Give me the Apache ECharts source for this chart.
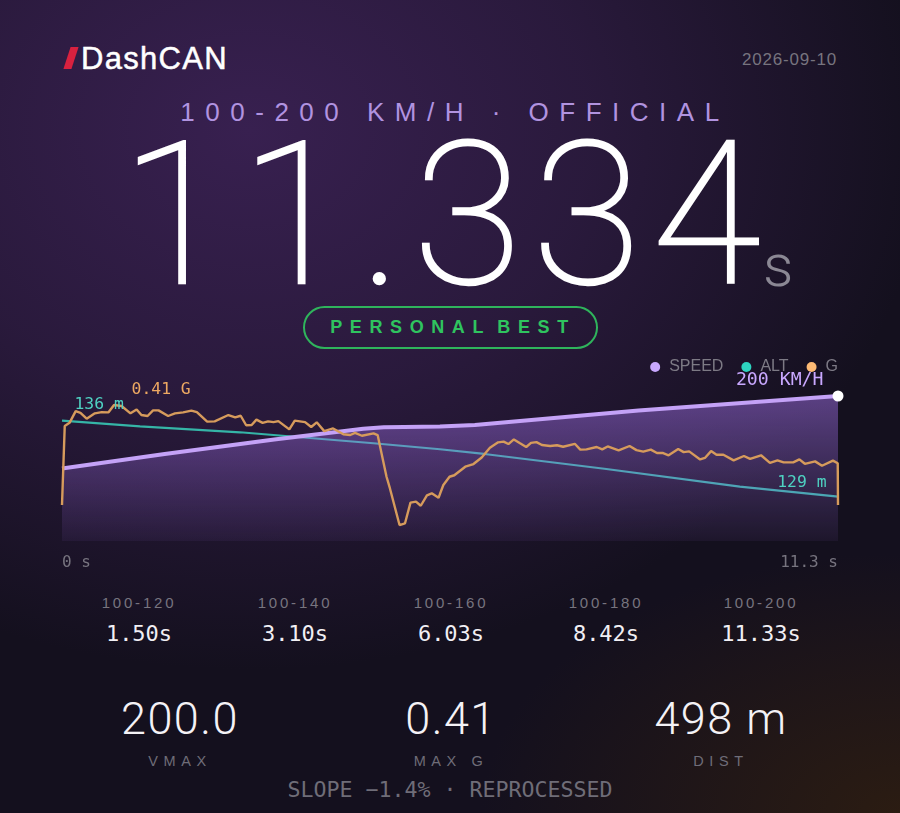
<!DOCTYPE html>
<html>
<head>
<meta charset="utf-8">
<title>DashCAN</title>
<script src="https://cdn.jsdelivr.net/npm/echarts@6/dist/echarts.min.js"></script>
<style>
  html, body { margin: 0; padding: 0; }
  body {
    width: 900px; height: 813px; overflow: hidden; position: relative; color: #fff;
    font-family: "Liberation Sans", sans-serif;
    background:
      radial-gradient(ellipse 680px 540px at 250px 130px, #382050 0%, rgba(56,32,80,0.6) 50%, rgba(56,32,80,0) 100%),
      radial-gradient(ellipse 420px 260px at 900px 813px, #2b1c12 0%, rgba(43,28,18,0) 100%),
      #14101e;
  }
  .t { position: absolute; white-space: nowrap; line-height: 1; }
  .c { transform: translateX(-50%); }
  .mono { font-family: "DejaVu Sans Mono", monospace; }
  .light { font-family: Roboto, sans-serif; }
  #chart { position: absolute; left: 0; top: 350px; width: 900px; height: 230px; }
  #slash { position: absolute; left: 67px; top: 47px; width: 8px; height: 22px; background: #d8213f; transform: skewX(-18deg); }
  #pill { position: absolute; left: 303px; top: 306px; width: 291px; height: 39px; border: 2px solid #2fb45c; border-radius: 22px; }
</style>
</head>
<body>
<div id="slash"></div>
<div class="t" style="left:81px;top:43px;font-size:31px;letter-spacing:1.3px;-webkit-text-stroke:0.5px #fff;">DashCAN</div>
<div class="t" style="right:63px;top:51px;font-size:17px;letter-spacing:0.8px;color:#77747f;">2026-09-10</div>
<div class="t c" style="left:455px;top:99px;font-size:26px;letter-spacing:10.5px;color:#b193e0;">100-200 KM/H · OFFICIAL</div>
<div class="t light" style="left:121px;top:116px;font-size:198px;font-weight:100;letter-spacing:11px;-webkit-text-stroke:2.5px #fff;">11.334</div>
<div class="t light" style="left:763px;top:236px;font-size:60px;font-weight:300;color:#8b8894;">s</div>
<div id="pill"></div>
<div class="t c" style="left:453px;top:318px;font-size:18px;font-weight:700;letter-spacing:7.6px;word-spacing:-6px;color:#2fc45f;">PERSONAL BEST</div>
<div id="chart"></div>
<div id="splits"></div>
<div id="stats"></div>
<div class="t c mono" style="left:450px;top:779px;font-size:21.6px;color:#6f6d78;">SLOPE −1.4% · REPROCESSED</div>

<script>
// speed trace, km/h
const speedTimes = [0, 1.5, 3.1, 4.4, 4.7, 5, 5.52, 6.03, 8.42, 11.334]
const speedValues = [100, 120, 140, 154.8, 157, 157.4, 158, 160, 180, 200]

// altitude trace, m
const altTimes = [0, 1.14, 2.6, 4.55, 5.52, 6.2, 7.95, 9.9, 11.334]
const altValues = [136, 135.48, 134.93, 133.92, 133.37, 132.91, 131.55, 129.92, 129]

// g trace
const gTimes = [
  0, 0.04, 0.11, 0.2, 0.27, 0.36, 0.48, 0.58, 0.68, 0.76, 0.87, 1, 1.09, 1.16, 1.25, 1.33, 1.41, 1.55, 1.65, 1.77,
  1.89, 1.97, 2.12, 2.23, 2.43, 2.53, 2.61, 2.69, 2.77, 2.84, 2.93, 3.01, 3.09, 3.16, 3.32, 3.4, 3.55, 3.64, 3.72, 3.83,
  3.96, 4.11, 4.21, 4.28, 4.38, 4.55, 4.61, 4.74, 4.79, 4.93, 5.01, 5.09, 5.17, 5.24, 5.33, 5.4, 5.5, 5.52, 5.57, 5.66,
  5.73, 5.89, 6.01, 6.13, 6.25, 6.37, 6.45, 6.52, 6.6, 6.69, 6.78, 6.85, 6.93, 7.01, 7.13, 7.23, 7.32, 7.49, 7.57, 7.66,
  7.81, 7.89, 7.97, 8.13, 8.29, 8.39, 8.49, 8.6, 8.69, 8.78, 8.86, 9, 9.08, 9.16, 9.32, 9.39, 9.48, 9.56, 9.66, 9.81,
  9.96, 10.05, 10.21, 10.34, 10.45, 10.54, 10.68, 10.77, 10.85, 11, 11.1, 11.26, 11.33, 11.334
]
const gValues = [
  0, 0.324, 0.337, 0.385, 0.378, 0.354, 0.376, 0.381, 0.38, 0.41, 0.406, 0.376, 0.392, 0.369, 0.365, 0.388, 0.388, 0.365, 0.376, 0.38,
  0.387, 0.381, 0.342, 0.343, 0.369, 0.359, 0.366, 0.327, 0.328, 0.35, 0.337, 0.343, 0.34, 0.344, 0.31, 0.346, 0.34, 0.32, 0.339, 0.303,
  0.314, 0.29, 0.287, 0.296, 0.284, 0.294, 0.287, 0.116, 0.068, -0.082, -0.075, 0.01, 0.014, -0.003, 0.04, 0.048, 0.03, 0.045, 0.082, 0.116,
  0.122, 0.157, 0.168, 0.195, 0.235, 0.257, 0.26, 0.25, 0.269, 0.253, 0.238, 0.255, 0.258, 0.246, 0.242, 0.245, 0.239, 0.251, 0.227, 0.228,
  0.238, 0.228, 0.24, 0.224, 0.242, 0.225, 0.219, 0.227, 0.213, 0.213, 0.204, 0.23, 0.217, 0.22, 0.187, 0.193, 0.221, 0.206, 0.206, 0.183,
  0.201, 0.189, 0.204, 0.173, 0.183, 0.175, 0.175, 0.187, 0.169, 0.179, 0.161, 0.182, 0.171, 0
]

// tiles under the chart
const splitNames = ['100-120', '100-140', '100-160', '100-180', '100-200']
const splitTimes = ['1.50s', '3.10s', '6.03s', '8.42s', '11.33s']
const statValues = ['200.0', '0.41', '498 m']
const statNames = ['VMAX', 'MAX G', 'DIST']

const zip = (xs, ys) => xs.map((x, i) => [x, ys[i]])
const lastOf = arr => arr[arr.length - 1]
const mono = '"DejaVu Sans Mono", monospace'

// 分段成绩和底部统计
let splitHtml = ''
const splitCenters = [139, 295, 451, 606, 761]
splitNames.forEach((name, i) => {
  splitHtml += `<div class="t c" style="left:${splitCenters[i]}px;top:595px;font-size:15px;letter-spacing:2.8px;color:#77747f;">${name}</div>`
  splitHtml += `<div class="t c mono" style="left:${splitCenters[i]}px;top:623px;font-size:22px;color:#f1eff4;">${splitTimes[i]}</div>`
})
document.getElementById('splits').innerHTML = splitHtml

let statHtml = ''
const statCenters = [180, 451, 721]
statValues.forEach((val, i) => {
  statHtml += `<div class="t c light" style="left:${statCenters[i]}px;top:696px;font-size:45px;font-weight:300;letter-spacing:1.5px;color:#f4f2f6;">${val}</div>`
  statHtml += `<div class="t c" style="left:${statCenters[i]}px;top:754px;font-size:14.5px;letter-spacing:5.6px;color:#6f6d78;">${statNames[i]}</div>`
})
document.getElementById('stats').innerHTML = statHtml

// 只用来挂文字的透明点
const hiddenDot = { symbol: 'circle', symbolSize: 1, itemStyle: { color: 'transparent' } }

const myChart = echarts.init(document.getElementById('chart'))
myChart.setOption({
  animation: false,
  grid: { left: 62, right: 62, top: 46, height: 145 },
  legend: {
    right: 62,
    top: 9,
    padding: 0,
    icon: 'circle',
    itemWidth: 10,
    itemHeight: 10,
    itemGap: 18,
    textStyle: { color: '#7d7a85', fontFamily: 'Liberation Sans', fontSize: 16, padding: [0, 0, 0, 4] },
    data: [
      { name: 'SPEED', itemStyle: { color: '#c9a8ff' } },
      { name: 'ALT', itemStyle: { color: '#2dd4bf' } },
      { name: 'G', itemStyle: { color: '#fdba74' } }
    ]
  },
  xAxis: {
    type: 'value',
    min: 0,
    max: 11.334,
    splitLine: { show: false },
    axisLine: { show: false },
    axisTick: { show: false },
    axisLabel: {
      customValues: [0, 11.334],
      alignMinLabel: 'left',
      alignMaxLabel: 'right',
      margin: 14,
      color: '#77747f',
      fontFamily: mono,
      fontSize: 16,
      formatter: v => (v === 0 ? '0 s' : '11.3 s')
    }
  },
  yAxis: [
    { type: 'value', show: false, min: 0, max: 200 },
    { type: 'value', show: false, min: 124.92, max: 138.27 },
    { type: 'value', show: false, min: -0.1475, max: 0.447 }
  ],
  series: [
    {
      name: 'SPEED',
      type: 'line',
      yAxisIndex: 0,
      showSymbol: false,
      data: zip(speedTimes, speedValues),
      lineStyle: { color: '#c4a2f7', width: 4 },
      itemStyle: { color: '#c9a8ff' },
      areaStyle: {
        opacity: 1,
        color: {
          type: 'linear', x: 0, y: 0, x2: 0, y2: 1,
          colorStops: [
            { offset: 0, color: 'rgba(160,112,230,0.5)' },
            { offset: 1, color: 'rgba(160,112,230,0.07)' }
          ]
        }
      },
      markPoint: {
        silent: true,
        data: [{
          coord: [lastOf(speedTimes), lastOf(speedValues)],
          symbol: 'circle',
          symbolSize: 11,
          itemStyle: { color: '#ffffff' },
          label: {
            show: true,
            position: 'left',
            offset: [-4, -16],
            formatter: '200 KM/H',
            color: '#c9a8ff',
            fontFamily: mono,
            fontSize: 18.2
          }
        }]
      },
      z: 3
    },
    {
      name: 'ALT',
      type: 'line',
      yAxisIndex: 1,
      showSymbol: false,
      data: zip(altTimes, altValues),
      lineStyle: { color: '#35b5a7', width: 2.2 },
      itemStyle: { color: '#2dd4bf' },
      markPoint: {
        silent: true,
        data: [
          {
            ...hiddenDot,
            coord: [altTimes[0], altValues[0]],
            label: { show: true, position: 'right', offset: [7, -16], formatter: '136 m', color: '#4fd2c2', fontFamily: mono, fontSize: 16.4 }
          },
          {
            ...hiddenDot,
            coord: [lastOf(altTimes), lastOf(altValues)],
            label: { show: true, position: 'left', offset: [-6, -14], formatter: '129 m', color: '#4fd2c2', fontFamily: mono, fontSize: 16.4 }
          }
        ]
      },
      z: 2
    },
    {
      name: 'G',
      type: 'line',
      yAxisIndex: 2,
      showSymbol: false,
      data: zip(gTimes, gValues),
      lineStyle: { color: '#d69b5c', width: 2.4 },
      itemStyle: { color: '#fdba74' },
      markPoint: {
        silent: true,
        data: [{
          ...hiddenDot,
          coord: [0.76, 0.41],
          label: { show: true, position: 'right', offset: [12, -15], formatter: '0.41 G', color: '#eda862', fontFamily: mono, fontSize: 16.4 }
        }]
      },
      z: 4
    }
  ]
})
</script>
</body>
</html>
